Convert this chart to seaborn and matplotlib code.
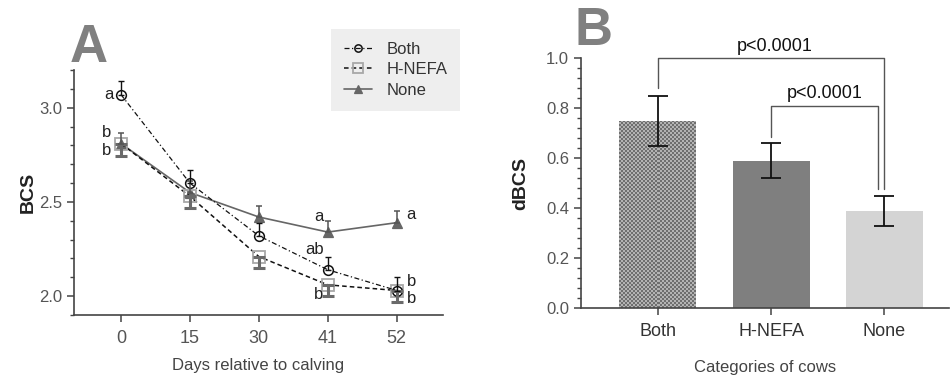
import matplotlib
matplotlib.use("Agg")
import matplotlib.pyplot as plt
import numpy as np
import pandas as pd
import seaborn as sns
from matplotlib.ticker import MultipleLocator

# Panel A: BCS over days relative to calving
days = ["0", "15", "30", "41", "52"]
bcs_both = [3.07, 2.60, 2.32, 2.14, 2.03]
bcs_hnefa = [2.81, 2.53, 2.21, 2.06, 2.03]
bcs_none = [2.81, 2.55, 2.42, 2.34, 2.39]
err_both = [0.07, 0.07, 0.07, 0.07, 0.07]
err_hnefa = [0.065, 0.06, 0.06, 0.06, 0.06]
err_none = [0.055, 0.06, 0.06, 0.06, 0.06]

# significance letters: (day index, dx, y, text, ha)
letters_a = [
    (0, -0.1, 3.07, "a", "right"),
    (0, -0.14, 2.87, "b", "right"),
    (0, -0.14, 2.775, "b", "right"),
    (3, -0.06, 2.425, "a", "right"),
    (4, 0.13, 2.435, "a", "left"),
    (3, -0.06, 2.245, "ab", "right"),
    (3, -0.07, 2.01, "b", "right"),
    (4, 0.14, 2.08, "b", "left"),
    (4, 0.14, 1.99, "b", "left"),
]

# Panel B: dBCS by category
categories = ["Both", "H-NEFA", "None"]
dbcs = [0.75, 0.59, 0.39]
dbcs_err = [0.10, 0.07, 0.06]
bar_colors = ["#929292", "#7f7f7f", "#d4d4d4"]

sns.set_style("ticks")
plt.rcParams["font.family"] = ["Liberation Sans", "DejaVu Sans"]

fig = plt.figure(figsize=(9.5, 3.79), dpi=100)
ax_a = fig.add_axes([74 / 950, 1 - 315 / 379, (443 - 74) / 950, (315 - 70) / 379])
ax_b = fig.add_axes([581 / 950, 1 - 308 / 379, (949 - 581) / 950, (308 - 58) / 379])

spine_color = "#444444"
tick_color = "#555555"

# ---- Panel A ----
df_a = pd.DataFrame({"day": days, "both": bcs_both, "hnefa": bcs_hnefa, "none": bcs_none})

sns.pointplot(data=df_a, x="day", y="none", order=days, ax=ax_a, errorbar=None,
              color="#666666", marker="^", markersize=7, linestyle="-", linewidth=1.2,
              label="None")
sns.pointplot(data=df_a, x="day", y="hnefa", order=days, ax=ax_a, errorbar=None,
              color="#111111", marker="s", markersize=9, markerfacecolor="none",
              markeredgecolor="#a8a8a8", markeredgewidth=1.3, linestyle=(0, (3, 2)),
              linewidth=1.1, label="H-NEFA")
sns.pointplot(data=df_a, x="day", y="both", order=days, ax=ax_a, errorbar=None,
              color="#111111", marker="o", markersize=7, markerfacecolor="none",
              markeredgewidth=1.1, linestyle=(0, (4, 2, 1, 2)), linewidth=0.9,
              label="Both")

pos = np.arange(len(days))
ax_a.errorbar(pos, bcs_both, yerr=[np.zeros(len(days)), err_both], fmt="none",
              ecolor="#111111", elinewidth=1.0, capsize=2.5, capthick=1.0, zorder=5)
ax_a.errorbar(pos, bcs_hnefa, yerr=[err_hnefa, np.zeros(len(days))], fmt="none",
              ecolor="#6a6a6a", elinewidth=2.2, capsize=4, capthick=2.2, zorder=4)
ax_a.errorbar(pos, bcs_none, yerr=[np.zeros(len(days)), err_none], fmt="none",
              ecolor="#555555", elinewidth=1.1, capsize=2.5, capthick=1.1, zorder=4)

for i, dx, y, txt, ha in letters_a:
    ax_a.text(i + dx, y, txt, ha=ha, va="center", fontsize=12, color="#222222")

ax_a.set_xlim(-0.68, 4.67)
ax_a.set_ylim(1.9, 3.2)
ax_a.yaxis.set_major_locator(MultipleLocator(0.5))
ax_a.yaxis.set_minor_locator(MultipleLocator(0.1))
ax_a.yaxis.set_major_formatter(matplotlib.ticker.FormatStrFormatter("%.1f"))
ax_a.set_xlabel("Days relative to calving", fontsize=12, color="#444444", labelpad=8)
ax_a.set_ylabel("BCS", fontsize=14, fontweight="bold", color="#222222", labelpad=2)

handles, labels = ax_a.get_legend_handles_labels()
order = [labels.index(n) for n in ["Both", "H-NEFA", "None"]]
leg = ax_a.legend([handles[k] for k in order], [labels[k] for k in order],
                  loc="upper left", bbox_to_anchor=(331 / 950, 1 - 29 / 379),
                  bbox_transform=fig.transFigure, fontsize=12, frameon=True,
                  fancybox=False, facecolor="#eeeeee", edgecolor="none", framealpha=1,
                  handlelength=1.7, labelspacing=0.35, borderpad=0.75, handletextpad=0.9,
                  borderaxespad=0, markerscale=0.75)
for t in leg.get_texts():
    t.set_color("#333333")

fig.text(70 / 950, 1 - 62 / 379, "A", fontsize=38, fontweight="bold", color="#808080",
         ha="left", va="baseline")

# ---- Panel B ----
df_b = pd.DataFrame({"category": categories, "dbcs": dbcs})
sns.barplot(data=df_b, x="category", y="dbcs", order=categories, hue="category",
            palette=bar_colors, legend=False, errorbar=None, width=0.68, ax=ax_b,
            linewidth=0, saturation=1)
ax_b.errorbar(np.arange(len(categories)), dbcs, yerr=dbcs_err, fmt="none",
              ecolor="#111111", elinewidth=1.3, capsize=7, capthick=1.3, zorder=5)

ax_b.set_xlim(-0.68, 2.57)
ax_b.set_ylim(0, 1.0)

# checkerboard texture on the "Both" bar
bar = ax_b.patches[0]
bx, by = bar.get_x(), bar.get_y()
bw, bh = bar.get_width(), bar.get_height()
fig.canvas.draw()
p0 = ax_b.transData.transform((bx, by))
p1 = ax_b.transData.transform((bx + bw, by + bh))
nx = int(round(abs(p1[0] - p0[0]) / 2))
ny = int(round(abs(p1[1] - p0[1]) / 2))
checker = (np.indices((ny, nx)).sum(axis=0) % 2).astype(float)
im = ax_b.imshow(checker, cmap=matplotlib.colors.ListedColormap(["#6f6f6f", "#b3b3b3"]),
                 extent=(bx, bx + bw, by, by + bh), interpolation="nearest",
                 aspect="auto", zorder=bar.get_zorder() + 0.1)
im.set_clip_path(bar)
ax_b.set_xlim(-0.68, 2.57)
ax_b.set_ylim(0, 1.0)

ax_b.yaxis.set_major_locator(MultipleLocator(0.2))
ax_b.yaxis.set_minor_locator(MultipleLocator(0.04))
ax_b.yaxis.set_major_formatter(matplotlib.ticker.FormatStrFormatter("%.1f"))
ax_b.set_xlabel("Categories of cows", fontsize=12, color="#444444", labelpad=14)
ax_b.set_ylabel("dBCS", fontsize=14, fontweight="bold", color="#222222", labelpad=12)

# significance brackets
br_color = "#555555"
ax_b.plot([0, 0, 2, 2], [0.88, 1.0, 1.0, 0.475], color=br_color, lw=1.0,
          clip_on=False, zorder=6)
ax_b.plot([1, 1, 1.94, 1.94], [0.685, 0.81, 0.81, 0.475], color=br_color, lw=1.0,
          clip_on=False, zorder=6)
ax_b.text(1.03, 1.012, "p<0.0001", ha="center", va="bottom", fontsize=13, color="#111111")
ax_b.text(1.47, 0.822, "p<0.0001", ha="center", va="bottom", fontsize=13, color="#111111")

fig.text(574 / 950, 1 - 45 / 379, "B", fontsize=38, fontweight="bold", color="#808080",
         ha="left", va="baseline")

# shared axis styling
for ax in (ax_a, ax_b):
    sns.despine(ax=ax)
    for s in ("left", "bottom"):
        ax.spines[s].set_color(spine_color)
        ax.spines[s].set_linewidth(1.2)
    ax.tick_params(axis="both", which="major", length=5, width=1.1, color=spine_color,
                   labelcolor=tick_color, labelsize=12, direction="out")
    ax.tick_params(axis="y", which="minor", length=3, width=1.0, color=spine_color,
                   direction="out")
    ax.tick_params(axis="x", pad=6)
    ax.grid(False)

ax_a.tick_params(axis="x", labelsize=13)
ax_b.tick_params(axis="x", labelsize=13, labelcolor="#333333")

fig.savefig("out.png", dpi=100)
